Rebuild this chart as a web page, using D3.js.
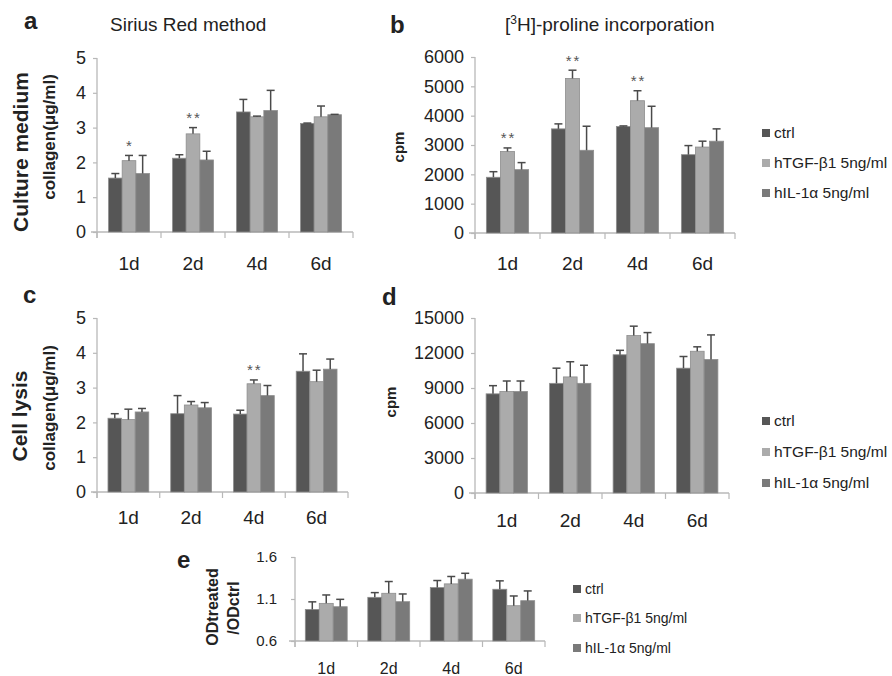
<!DOCTYPE html>
<html><head><meta charset="utf-8">
<script src="https://cdn.jsdelivr.net/npm/d3@7"></script>
<style>
body{margin:0;background:#fff}
svg{display:block}
text{font-family:"Liberation Sans",Arial,Helvetica,sans-serif;fill:#222}
</style>
</head><body>
<svg id="chart" width="892" height="676"></svg>
<script>
const categories = ["1d","2d","4d","6d"];
const seriesNames = ["ctrl","hTGF-β1 5ng/ml","hIL-1α 5ng/ml"];
const seriesColors = ["#565656","#ababab","#7a7a7a"];

// Panel a: Sirius Red, culture medium (collagen µg/ml)
const aTicks = [0,1,2,3,4,5];
const aCtrl = [1.55, 2.12, 3.45, 3.12];
const aTGF  = [2.05, 2.82, 3.31, 3.31];
const aIL   = [1.68, 2.07, 3.49, 3.37];
const aCtrlErr = [0.13, 0.10, 0.36, 0.01];
const aTGFErr  = [0.15, 0.18, 0.02, 0.31];
const aILErr   = [0.52, 0.25, 0.58, 0.01];
const aStars = [["1d","*"],["2d","**"]];

// Panel b: [3H]-proline, culture medium (cpm)
const bTicks = [0,1000,2000,3000,4000,5000,6000];
const bCtrl = [1900, 3550, 3630, 2670];
const bTGF  = [2780, 5270, 4510, 2930];
const bIL   = [2160, 2820, 3590, 3130];
const bCtrlErr = [190, 170, 20, 310];
const bTGFErr  = [120, 280, 340, 200];
const bILErr   = [240, 820, 730, 420];
const bStars = [["1d","**"],["2d","**"],["4d","**"]];

// Panel c: Sirius Red, cell lysis
const cTicks = [0,1,2,3,4,5];
const cCtrl = [2.12, 2.25, 2.24, 3.47];
const cTGF  = [2.08, 2.50, 3.11, 3.17];
const cIL   = [2.30, 2.42, 2.77, 3.53];
const cCtrlErr = [0.13, 0.52, 0.11, 0.50];
const cTGFErr  = [0.30, 0.10, 0.11, 0.33];
const cILErr   = [0.10, 0.15, 0.29, 0.29];
const cStars = [["4d","**"]];

// Panel d: [3H]-proline, cell lysis
const dTicks = [0,3000,6000,9000,12000,15000];
const dCtrl = [8500, 9400, 11850, 10700];
const dTGF  = [8700, 9950, 13500, 12150];
const dIL   = [8700, 9400, 12800, 11450];
const dCtrlErr = [700, 1300, 380, 1000];
const dTGFErr  = [900, 1300, 800, 380];
const dILErr   = [900, 1550, 950, 2100];

// Panel e: ODtreated / ODctrl
const eTicks = [0.6, 1.1, 1.6];
const eCtrl = [0.976, 1.12, 1.236, 1.216];
const eTGF  = [1.048, 1.168, 1.28, 1.02];
const eIL   = [1.008, 1.068, 1.336, 1.08];
const eCtrlErr = [0.09, 0.056, 0.084, 0.10];
const eTGFErr  = [0.10, 0.14, 0.088, 0.116];
const eILErr   = [0.088, 0.092, 0.07, 0.116];

const svg = d3.select("#chart");
const FONT = '"Liberation Sans",Arial,Helvetica,sans-serif';

function drawPanel(p){
  const g = svg.append("g");
  const x = d3.scaleBand().domain(categories).range([p.x0, p.x1]);
  const gw = x.bandwidth()*p.groupFrac;
  const inner = d3.scaleBand().domain(d3.range(3)).range([0, gw]);
  const off = (x.bandwidth()-gw)/2;
  const y = d3.scaleLinear().domain([p.ticks[0], p.ticks[p.ticks.length-1]]).range([p.yBase, p.yTop]);

  const ya = g.append("g").attr("transform", `translate(${p.x0},0)`)
    .call(d3.axisLeft(y).tickValues(p.ticks).tickSize(4).tickPadding(p.tickPad).tickFormat(p.fmt));
  ya.select(".domain").remove();
  ya.attr("font-size", p.tickFs).attr("font-family", FONT);
  ya.selectAll("line").attr("stroke", "#b8b8b8").attr("stroke-width", 1.2);
  ya.selectAll("text").attr("fill", "#222");

  g.append("line").attr("x1", p.x0).attr("x2", p.x0).attr("y1", p.yTop).attr("y2", p.yBase+6)
    .attr("stroke", "#b8b8b8").attr("stroke-width", 1.3);
  g.append("line").attr("x1", p.x0-6).attr("x2", p.x1).attr("y1", p.yBase).attr("y2", p.yBase)
    .attr("stroke", "#b8b8b8").attr("stroke-width", 1.3);
  const bounds = categories.map(c => x(c)).concat([p.x1]);
  g.selectAll(".xt").data(bounds).join("line")
    .attr("x1", d=>d).attr("x2", d=>d).attr("y1", p.yBase).attr("y2", p.yBase+6)
    .attr("stroke", "#b8b8b8").attr("stroke-width", 1.2);
  g.selectAll(".cat").data(categories).join("text")
    .attr("x", c => x(c)+x.bandwidth()/2).attr("y", p.catY)
    .attr("text-anchor", "middle").attr("font-size", p.catFs).text(c=>c);

  p.series.forEach((vals, i) => {
    const errs = p.errs[i];
    const data = categories.map((c, j) => ({c, v: vals[j], e: errs[j]}));
    g.selectAll(null).data(data).join("rect")
      .attr("x", d => x(d.c)+off+inner(i))
      .attr("y", d => y(d.v))
      .attr("width", inner.bandwidth())
      .attr("height", d => p.yBase - y(d.v))
      .attr("fill", seriesColors[i])
      .attr("stroke", "#8e8e8e").attr("stroke-width", 0.8);
    const cx = d => x(d.c)+off+inner(i)+inner.bandwidth()/2;
    g.selectAll(null).data(data).join("line")
      .attr("x1", cx).attr("x2", cx)
      .attr("y1", d => y(d.v)).attr("y2", d => y(d.v+d.e))
      .attr("stroke", "#4a4a4a").attr("stroke-width", 1.5);
    g.selectAll(null).data(data).join("line")
      .attr("x1", d => cx(d)-4).attr("x2", d => cx(d)+4)
      .attr("y1", d => y(d.v+d.e)).attr("y2", d => y(d.v+d.e))
      .attr("stroke", "#4a4a4a").attr("stroke-width", 1.5);
  });

  (p.stars||[]).forEach(([cat, s]) => {
    const j = categories.indexOf(cat);
    const top = y(p.series[1][j] + p.errs[1][j]);
    g.append("text").attr("x", x(cat)+off+inner(1)+inner.bandwidth()/2 + (s.length>1?1:0))
      .attr("y", top - 4.5).attr("text-anchor", "middle")
      .attr("font-size", 15).attr("letter-spacing", s.length>1?"2px":null)
      .style("fill", "#555").text(s);
  });
}

function rotText(x, y, txt, fs, weight){
  svg.append("text").attr("transform", `translate(${x},${y}) rotate(-90)`)
    .attr("text-anchor", "middle").attr("font-size", fs).attr("font-weight", weight||"bold").text(txt);
}
function label(x, y, txt, fs, weight){
  return svg.append("text").attr("x", x).attr("y", y).attr("font-size", fs)
    .attr("font-weight", weight||"normal").text(txt);
}
function legend(x, ys, fs){
  seriesNames.forEach((n, i) => {
    svg.append("rect").attr("x", x).attr("y", ys[i]-4).attr("width", 8).attr("height", 8)
      .attr("fill", seriesColors[i]);
    svg.append("text").attr("x", x+12).attr("y", ys[i]).attr("dy", "0.35em")
      .attr("font-size", fs).text(n);
  });
}

const fmtInt = d3.format("d");
drawPanel({x0:97, x1:353, yTop:58, yBase:232, ticks:aTicks, fmt:fmtInt, tickFs:18, tickPad:7,
  catFs:19, catY:270, groupFrac:0.64, series:[aCtrl,aTGF,aIL], errs:[aCtrlErr,aTGFErr,aILErr], stars:aStars});
drawPanel({x0:475, x1:735, yTop:57, yBase:233, ticks:bTicks, fmt:fmtInt, tickFs:18, tickPad:7,
  catFs:19, catY:270, groupFrac:0.65, series:[bCtrl,bTGF,bIL], errs:[bCtrlErr,bTGFErr,bILErr], stars:bStars});
drawPanel({x0:97, x1:348, yTop:318, yBase:492, ticks:cTicks, fmt:fmtInt, tickFs:18, tickPad:7,
  catFs:19, catY:524, groupFrac:0.65, series:[cCtrl,cTGF,cIL], errs:[cCtrlErr,cTGFErr,cILErr], stars:cStars});
drawPanel({x0:475, x1:729, yTop:318, yBase:493, ticks:dTicks, fmt:fmtInt, tickFs:18, tickPad:7,
  catFs:19, catY:527, groupFrac:0.65, series:[dCtrl,dTGF,dIL], errs:[dCtrlErr,dTGFErr,dILErr]});
drawPanel({x0:295, x1:545, yTop:557, yBase:641, ticks:eTicks, fmt:d3.format(".1f"), tickFs:15, tickPad:14,
  catFs:16, catY:674, groupFrac:0.67, series:[eCtrl,eTGF,eIL], errs:[eCtrlErr,eTGFErr,eILErr]});

// panel letters & titles
label(24, 29, "a", 24, "bold");
label(110, 31, "Sirius Red method", 19);
label(390, 33, "b", 24, "bold");
const tb = label(505, 31, "[", 19);
tb.append("tspan").attr("font-size", 12).attr("dy", -7).text("3");
tb.append("tspan").attr("dy", 7).text("H]-proline incorporation");
label(23, 303, "c", 24, "bold");
label(382, 305, "d", 24, "bold");
label(177, 568, "e", 24, "bold");

rotText(28, 152, "Culture medium", 21);
rotText(55, 137, "collagen(μg/ml)", 17);
rotText(27, 416, "Cell lysis", 21);
rotText(55, 408, "collagen(μg/ml)", 17);
rotText(404, 147, "cpm", 15);
rotText(396, 402, "cpm", 15);
rotText(218, 607, "ODtreated", 16);
rotText(239, 608, "/ODctrl", 16);

legend(762, [133,163,193], 15.5);
legend(762, [421,452,483], 15.5);
legend(573, [589,618,648], 14);
</script>
</body></html>
